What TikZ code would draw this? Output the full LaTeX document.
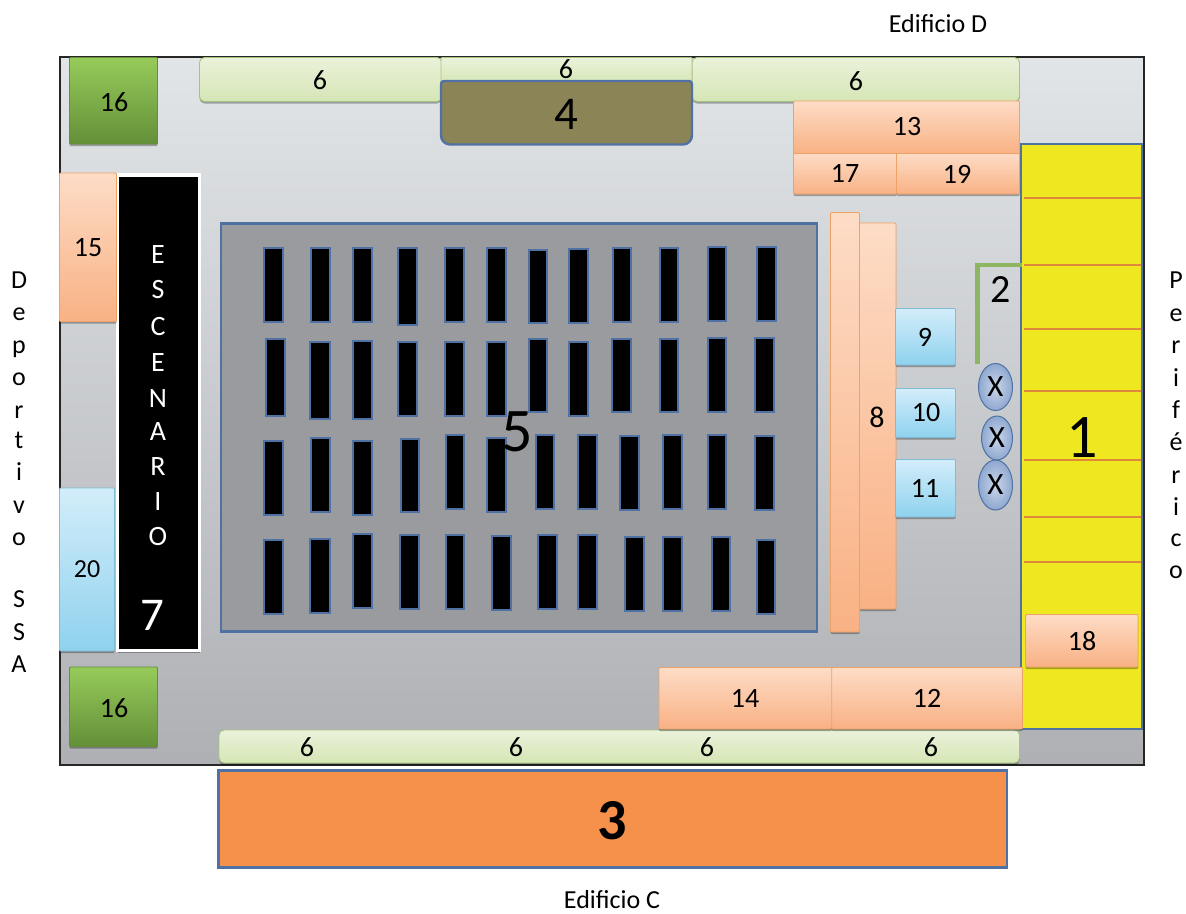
\documentclass[tikz,border=0pt]{standalone}
\usepackage{fontspec}
\setmainfont{Carlito}
\usetikzlibrary{shadows,shapes.geometric}
\definecolor{bluedge}{HTML}{4F71A3}
\definecolor{peachT}{HTML}{FDDCC6}
\definecolor{peachB}{HTML}{F9B184}
\definecolor{peachE}{HTML}{EFA266}
\definecolor{skyT}{HTML}{D3EDFA}
\definecolor{skyB}{HTML}{8FD2EE}
\definecolor{skyE}{HTML}{7FBCD6}
\definecolor{leafT}{HTML}{EAF2DA}
\definecolor{leafB}{HTML}{D5E6B5}
\definecolor{leafE}{HTML}{A6C47E}
\definecolor{grassT}{HTML}{96CB5A}
\definecolor{grassB}{HTML}{648F38}
\definecolor{panelT}{HTML}{E2E5E8}
\definecolor{panelB}{HTML}{AEB0B4}
\definecolor{hallgray}{HTML}{9A9B9F}
\definecolor{stagefour}{HTML}{8B8456}
\definecolor{yellowlot}{HTML}{EFE820}
\definecolor{orangelot}{HTML}{F6914C}
\definecolor{lotline}{HTML}{E0883A}
\definecolor{barline}{HTML}{8DB562}
\definecolor{xinner}{HTML}{C9D6EA}
\definecolor{xouter}{HTML}{8FA8D0}
\tikzset{
  softshadow/.style={drop shadow={shadow xshift=0pt,shadow yshift=-2pt,opacity=.3,fill=black}},
  peachbox/.style={draw=peachE,line width=.9pt,top color=peachT,bottom color=peachB,rounded corners=1pt,softshadow},
  skybox/.style={draw=skyE,line width=.9pt,top color=skyT,bottom color=skyB,rounded corners=1pt,softshadow},
  leafbox/.style={draw=leafE,line width=.9pt,top color=leafT,bottom color=leafB,rounded corners=5pt,softshadow},
  grassbox/.style={draw=grassB,line width=.9pt,top color=grassT,bottom color=grassB,rounded corners=1pt,softshadow},
  bluebox/.style={draw=bluedge,line width=2.4pt},
  deskbox/.style={draw=bluedge,line width=2pt,fill=black},
  lotrule/.style={draw=lotline,line width=1.1pt},
  xmark/.style={draw=bluedge,line width=1pt,inner color=xinner,outer color=xouter},
  lab/.style={inner sep=0pt,text=black},
}
\newcommand{\fs}[1]{\fontsize{#1}{#1}\selectfont}
\newcommand{\desk}[4]{\draw[deskbox] ({#1+1},{#2+1}) rectangle ({#3-1},{#4-1});}
\begin{document}
\begin{tikzpicture}[x=1pt,y=-1pt]
\useasboundingbox (0,0) rectangle (1186,913);
% site
\draw[draw=black!85,line width=1.3pt,top color=panelT,bottom color=panelB] (60,57) rectangle (1144,765);
% parking 1
\draw[bluebox,fill=yellowlot] (1021,144) rectangle (1142,729);
\foreach \yy in {198,265,329,391,460,517,562}{\draw[lotrule] (1024,\yy) -- (1141,\yy);}
% 16
\draw[grassbox] (69.5,57.5) rectangle (157.5,144);
\draw[grassbox] (69.5,667) rectangle (157.5,746.5);
% 6 strips
\draw[leafbox] (199.5,57.5) rectangle (442,101.5);
\draw[leafbox] (692,57.5) rectangle (1019.5,101.5);
\draw[leafbox,rounded corners=1pt] (441,57.5) rectangle (692,84);
\draw[leafbox] (219,730) rectangle (1019.5,763);
% 4
\draw[bluebox,fill=stagefour] (441,100) [rounded corners=3pt] -- (441,81) -- (692,81) -- (692,100) [rounded corners=9pt] -- (692,144.5) -- (441,144.5) -- cycle;
% 13 17 19
\draw[peachbox] (793.5,101) rectangle (1019.5,153.5);
\draw[peachbox] (793.5,153.5) rectangle (896.5,194);
\draw[peachbox] (896.5,153.5) rectangle (1019.5,194);
% stage 7
\draw[draw=white,line width=3.4pt,fill=black,softshadow] (117.5,175) rectangle (199.5,650.5);
% 15, 20
\draw[peachbox] (59.5,173) rectangle (116.5,321.5);
\draw[skybox] (59.5,488) rectangle (114.5,651);
% hall 5
\draw[bluebox,fill=hallgray] (221,223.5) rectangle (817,631.5);
% desks row 1
\desk{263.3}{246.7}{284}{322.7}\desk{310}{246.7}{330.7}{322.7}\desk{352}{246.7}{372.7}{322.7}\desk{397.3}{246.7}{418}{326}\desk{444}{246.7}{465.3}{322.7}\desk{486}{247}{506.7}{323}
\desk{528.3}{249}{548.3}{324.3}\desk{568.3}{248.3}{588.7}{324.3}\desk{612}{247.3}{632.3}{323.3}\desk{658.7}{246.7}{679.3}{322.7}\desk{706.7}{246}{727.3}{322}\desk{756}{246}{776.7}{322}
% desks row 2
\desk{265}{337.7}{285.7}{417}\desk{309.3}{341}{330.7}{420}\desk{352}{339.7}{372.7}{419.7}\desk{397.3}{341}{418}{417.3}\desk{444}{341}{465.3}{417.3}\desk{486}{341}{506.7}{417.3}
\desk{528.3}{337.7}{548.3}{412.7}\desk{568.3}{341}{588.7}{417}\desk{611}{337.7}{631.7}{413.3}\desk{658.7}{337.7}{679.3}{413.3}\desk{706.7}{337.3}{727.3}{412.7}\desk{754.3}{337.3}{775}{413.3}
% desks row 3
\desk{263.3}{440.3}{284}{516.3}\desk{310}{437}{330.7}{512.7}\desk{352}{440}{372.7}{516}\desk{400}{437.7}{420}{513.3}\desk{444.7}{434}{465.3}{509.7}\desk{486}{437}{506.7}{512.7}
\desk{535}{434}{555.3}{509.7}\desk{577.3}{434}{598}{509.7}\desk{619}{435}{639.7}{510.7}\desk{662.3}{434}{683}{509.7}\desk{706.7}{434}{727.3}{509.7}\desk{754.3}{435}{775}{511}
% desks row 4
\desk{263.3}{539}{284}{615}\desk{309.3}{538.3}{330.7}{613.7}\desk{352}{533.3}{372.7}{609.3}\desk{399.3}{533.7}{420}{609.7}\desk{444.7}{533.7}{465.3}{609.7}\desk{491.3}{535}{512}{611}
\desk{537.3}{533.7}{558}{609.7}\desk{577.3}{533.7}{598}{609.7}\desk{624}{535.7}{644.7}{611.7}\desk{662.3}{535.7}{683}{611.7}\desk{710.7}{535.7}{731.3}{611.7}\desk{755.7}{539}{776.3}{615}
% 8
\draw[peachbox] (859,223) rectangle (896,609);
\draw[peachbox] (830.5,212.5) rectangle (859.5,632);
% 9 10 11
\draw[skybox] (895.5,308.5) rectangle (955.5,365);
\draw[skybox] (895.5,388.5) rectangle (955.5,437.5);
\draw[skybox] (895.5,459.5) rectangle (955.5,517);
% 2 bar
\coordinate (barA) at (977.5,364);
\coordinate (barB) at (977.5,265);
\coordinate (barC) at (1022,265);
\draw[barline,line width=4.4pt] (barA) -- (barB) -- (barC);
% 18, 14, 12
\draw[peachbox] (1025.5,614.5) rectangle (1138,667);
\draw[peachbox] (659,667.5) rectangle (831.7,729);
\draw[peachbox] (831.7,667.5) rectangle (1022.5,729);
% 3
\draw[bluebox,fill=orangelot] (218.5,770.5) rectangle (1007,867.5);
% X
\node[lab,xmark,ellipse,minimum width=34pt,minimum height=47pt] (xa) at (995.5,387) {};
\node[lab,xmark,ellipse,minimum width=31pt,minimum height=44pt] (xb) at (997,438) {};
\node[lab,xmark,ellipse,minimum width=34pt,minimum height=50pt] (xc) at (995.5,485) {};
\node[lab,font=\fs{31}] (lxa) at (995.5,387) {X};
\node[lab,font=\fs{31}] (lxb) at (997,438) {X};
\node[lab,font=\fs{31}] (lxc) at (995.5,485) {X};
% number labels
\node[lab,font=\fs{28}] (l16a) at (114,102) {16};
\node[lab,font=\fs{28}] (l16b) at (114,708) {16};
\node[lab,font=\fs{28}] (l6a) at (320,80) {6};
\node[lab,font=\fs{28}] (l6b) at (566,69) {6};
\node[lab,font=\fs{28}] (l6c) at (856,81) {6};
\node[lab,font=\fs{47}] (l4) at (566,114) {4};
\node[lab,font=\fs{28}] (l13) at (907,127) {13};
\node[lab,font=\fs{28}] (l17) at (845,173) {17};
\node[lab,font=\fs{28}] (l19) at (957,174) {19};
\node[lab,font=\fs{28}] (l15) at (88,248) {15};
\node[lab,font=\fs{26}] (l20) at (87,569) {20};
\node[lab,font=\fs{62}] (l5) at (517,432) {5};
\node[lab,font=\fs{40}] (l2) at (1001,290) {2};
\node[lab,font=\fs{30}] (l8) at (877,417) {8};
\node[lab,font=\fs{28}] (l9) at (925,337) {9};
\node[lab,font=\fs{28}] (l10) at (926,413) {10};
\node[lab,font=\fs{28}] (l11) at (925,488) {11};
\node[lab,font=\fs{62}] (l1) at (1082,438) {1};
\node[lab,font=\fs{28}] (l18) at (1082,641) {18};
\node[lab,font=\fs{28}] (l14) at (745,698) {14};
\node[lab,font=\fs{28}] (l12) at (927,698) {12};
\node[lab,font=\fs{28}] (l6d) at (307,747) {6};
\node[lab,font=\fs{28}] (l6e) at (516,747) {6};
\node[lab,font=\fs{28}] (l6f) at (707,747) {6};
\node[lab,font=\fs{28}] (l6g) at (931,747) {6};
\node[lab,font=\bfseries\fs{58}] (l3) at (612,821) {3};
% stage text
\foreach \ch/\yy in {E/254,S/289,C/326,E/362,N/398,A/431,R/466,I/501,O/536}{
  \node[lab,text=white,font=\fs{28},anchor=base] at (158,{\yy+9}) {\ch};}
\node[lab,text=white,font=\fs{47}] (l7) at (152,615) {7};
% outside text
\node[lab,font=\fs{26}] (ed) at (938,24) {Edificio D};
\node[lab,font=\fs{26}] (ec) at (612,900) {Edificio C};
\foreach \ch/\yy in {D/280,e/312.5,p/345,o/377.5,r/410,t/440,i/472,v/505,o/537,S/599,S/632,A/664}{
  \node[lab,font=\fs{26},anchor=base] at (19,{\yy+8}) {\ch};}
\foreach \ch/\yy in {P/280,e/313,r/345,i/378,f/410,é/442,r/475,i/507,c/538,o/570}{
  \node[lab,font=\fs{26},anchor=base] at (1176,{\yy+8}) {\ch};}
\end{tikzpicture}
\end{document}
